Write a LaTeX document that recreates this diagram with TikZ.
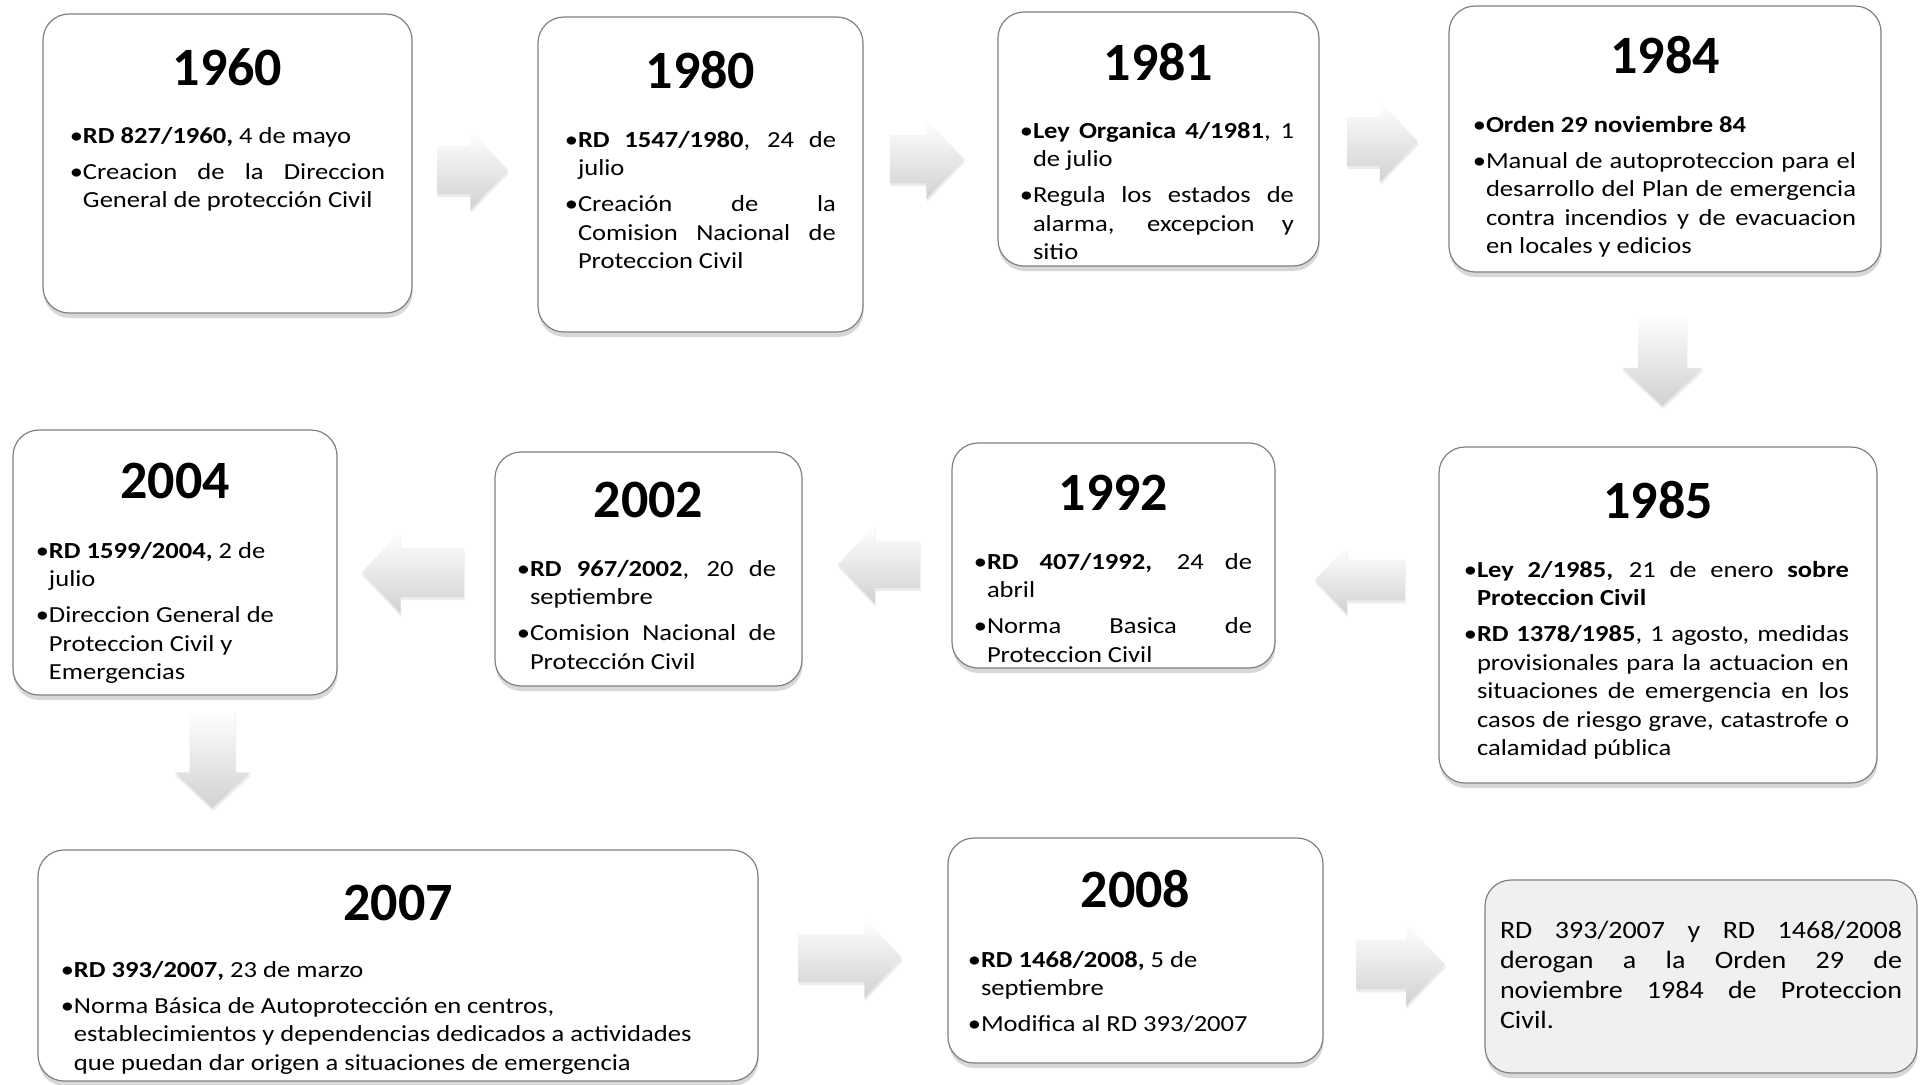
\documentclass[tikz,border=0pt]{standalone}
\usepackage{fontspec}
\setmainfont{Carlito}
\newfontfamily\bodyfam[FakeStretch=1.155]{Carlito}
\newfontfamily\finfam[FakeStretch=1.12]{Carlito}
\usetikzlibrary{shadows}
\definecolor{boxline}{RGB}{128,128,128}
\definecolor{finfill}{RGB}{240,240,240}
\newcommand\bodyfont{\bodyfam\fontsize{11.5pt}{14.25pt}\selectfont}
\newcommand\finfont{\finfam\fontsize{12.5pt}{15pt}\selectfont}
\newcommand\bul{\llap{•}}
\newcommand\jline[1]{\hbox to\hsize{\spaceskip=\fontdimen2\font plus 1fil\relax #1}}
\newcommand\rline[1]{\hbox{#1}}
\newcommand\gap{\vskip3.75pt}
\newcommand\barrow[6]{%
  \coordinate (#1) at (#2,#3);
  \begin{scope}[shift={(#1)}, rotate=#4]
    \shade[arrowfill] ({-#5/2},{-0.3*#6}) -- ({#5/2-0.47*#6},{-0.3*#6}) -- ({#5/2-0.47*#6},{-0.5*#6}) -- ({#5/2},0) -- ({#5/2-0.47*#6},{0.5*#6}) -- ({#5/2-0.47*#6},{0.3*#6}) -- ({-#5/2},{0.3*#6}) -- cycle;
  \end{scope}}
\tikzset{
  evbox/.style={draw=boxline, line width=0.6pt, fill=white, rounded corners=13pt, inner sep=0pt, outer sep=0pt,
    drop shadow={shadow xshift=0.3pt, shadow yshift=-2.5pt, opacity=0.3}},
  finbox/.style={evbox, fill=finfill},
  year/.style={anchor=base, inner sep=0pt, font=\fontsize{27pt}{32pt}\selectfont\bfseries},
  body/.style={anchor=base west, inner sep=0pt, outer sep=0pt},
  arrowfill/.style={top color=white, bottom color=black!18, draw=none,
    drop shadow={shadow xshift=0.3pt, shadow yshift=-1.5pt, opacity=0.15}},
}
\begin{document}
\begin{tikzpicture}[x=0.5pt, y=-0.5pt]
\fill[white] (0,0) rectangle (1924,1084);
\useasboundingbox (0,0) rectangle (1924,1084);

% ---- boxes ----
\node[evbox, minimum width=184.5pt, minimum height=149.5pt] (b1960) at (227.5,163.5) {};
\node[evbox, minimum width=162.5pt, minimum height=157.5pt] (b1980) at (700.5,174.5) {};
\node[evbox, minimum width=160.5pt, minimum height=127pt] (b1981) at (1158.5,139) {};
\node[evbox, minimum width=216pt, minimum height=133pt] (b1984) at (1665,139) {};
\node[evbox, minimum width=219pt, minimum height=168pt] (b1985) at (1658,615) {};
\node[evbox, minimum width=161.5pt, minimum height=112.5pt] (b1992) at (1113.5,555.5) {};
\node[evbox, minimum width=153.5pt, minimum height=117pt] (b2002) at (648.5,569) {};
\node[evbox, minimum width=162pt, minimum height=132.5pt] (b2004) at (175,562.5) {};
\node[evbox, minimum width=360pt, minimum height=115.5pt] (b2007) at (398,965.5) {};
\node[evbox, minimum width=187.5pt, minimum height=112.5pt] (b2008) at (1135.5,950.5) {};
\node[finbox, minimum width=216pt, minimum height=96.5pt] (bfin) at (1701,976.5) {};

% ---- arrows ----
\barrow{a1}{472.5}{170}{0}{71}{80}
\barrow{a2}{927}{159}{0}{74}{80}
\barrow{a3}{1382.5}{141.5}{0}{71}{81}
\barrow{a4}{1662.5}{359}{-90}{94}{81}
\barrow{a5}{1360}{580}{180}{90}{68}
\barrow{a6}{879}{564.5}{180}{82}{79}
\barrow{a7}{413}{572.5}{180}{102}{82}
\barrow{a8}{212.5}{759}{-90}{98}{76}
\barrow{a9}{850}{958}{0}{104}{80}
\barrow{a10}{1400.5}{964.5}{0}{89}{83}

% ---- years ----
\node[year] (y1960) at (227.5,85) {1960};
\node[year] (y1980) at (700.5,88) {1980};
\node[year] (y1981) at (1158.5,80) {1981};
\node[year] (y1984) at (1665,73) {1984};
\node[year] (y1985) at (1658,518) {1985};
\node[year] (y1992) at (1113.5,510) {1992};
\node[year] (y2002) at (648.5,517) {2002};
\node[year] (y2004) at (175,498) {2004};
\node[year] (y2007) at (398,920) {2007};
\node[year] (y2008) at (1135.5,907) {2008};

% ---- texts ----
\node[body] (t1960) at (83,143) {\parbox[t]{151pt}{\bodyfont
  \rline{\bul\textbf{RD 827/1960,} 4 de mayo}\gap
  \jline{\bul Creacion de la Direccion}
  \rline{General de protección Civil}}};

\node[body] (t1980) at (578,147) {\parbox[t]{129pt}{\bodyfont
  \jline{\bul\textbf{RD 1547/1980}, 24 de}
  \rline{julio}\gap
  \jline{\bul Creación de la}
  \jline{Comision Nacional de}
  \rline{Proteccion Civil}}};

\node[body] (t1981) at (1033,138) {\parbox[t]{130.5pt}{\bodyfont
  \jline{\bul\textbf{Ley Organica 4/1981}, 1}
  \rline{de julio}\gap
  \jline{\bul Regula los estados de}
  \jline{alarma, excepcion y}
  \rline{sitio}}};

\node[body] (t1984) at (1486,132) {\parbox[t]{185pt}{\bodyfont
  \rline{\bul\textbf{Orden 29 noviembre 84}}\gap
  \jline{\bul Manual de autoproteccion para el}
  \jline{desarrollo del Plan de emergencia}
  \jline{contra incendios y de evacuacion}
  \rline{en locales y edicios}}};

\node[body] (t1985) at (1477,577) {\parbox[t]{186pt}{\bodyfont
  \jline{\bul\textbf{Ley 2/1985,} 21 de enero \textbf{sobre}}
  \rline{\textbf{Proteccion Civil}}\gap
  \jline{\bul\textbf{RD 1378/1985}, 1 agosto, medidas}
  \jline{provisionales para la actuacion en}
  \jline{situaciones de emergencia en los}
  \jline{casos de riesgo grave, catastrofe o}
  \rline{calamidad pública}}};

\node[body] (t1992) at (987,569) {\parbox[t]{132.5pt}{\bodyfont
  \jline{\bul\textbf{RD 407/1992,} 24 de}
  \rline{abril}\gap
  \jline{\bul Norma Basica de}
  \rline{Proteccion Civil}}};

\node[body] (t2002) at (530,576) {\parbox[t]{123pt}{\bodyfont
  \jline{\bul\textbf{RD 967/2002}, 20 de}
  \rline{septiembre}\gap
  \jline{\bul Comision Nacional de}
  \rline{Protección Civil}}};

\node[body] (t2004) at (49,558) {\parbox[t]{140pt}{\bodyfont
  \rline{\bul\textbf{RD 1599/2004,} 2 de}
  \rline{julio}\gap
  \rline{\bul Direccion General de}
  \rline{Proteccion Civil y}
  \rline{Emergencias}}};

\node[body] (t2007) at (74,977) {\parbox[t]{330pt}{\bodyfont
  \rline{\bul\textbf{RD 393/2007,} 23 de marzo}\gap
  \rline{\bul Norma Básica de Autoprotección en centros,}
  \rline{establecimientos y dependencias dedicados a actividades}
  \rline{que puedan dar origen a situaciones de emergencia}}};

\node[body] (t2008) at (981,967) {\parbox[t]{150pt}{\bodyfont
  \rline{\bul\textbf{RD 1468/2008,} 5 de}
  \rline{septiembre}\gap
  \rline{\bul Modifica al RD 393/2007}}};

\node[body] (tfin) at (1500,938) {\parbox[t]{201pt}{\finfont
  \jline{RD 393/2007 y RD 1468/2008}
  \jline{derogan a la Orden 29 de}
  \jline{noviembre 1984 de Proteccion}
  \rline{Civil.}}};
\end{tikzpicture}
\end{document}
